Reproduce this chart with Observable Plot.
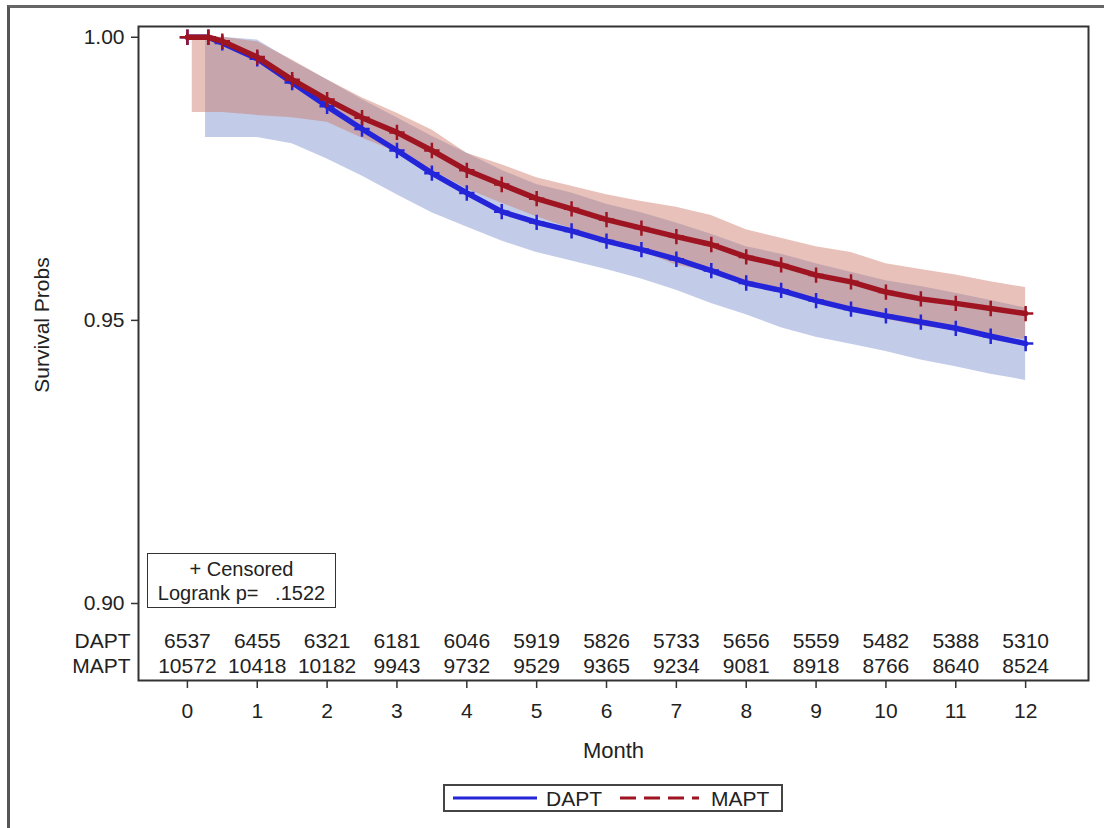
<!DOCTYPE html>
<html>
<head>
<meta charset="utf-8">
<script src="https://cdn.jsdelivr.net/npm/d3@7"></script>
<script src="https://cdn.jsdelivr.net/npm/@observablehq/plot@0.6"></script>
<style>
  html, body { margin: 0; padding: 0; background: #fff; }
  body { width: 1104px; height: 828px; position: relative; overflow: hidden; font-family: "Liberation Sans", Arial, sans-serif; color: #222; }
  #outer { position: absolute; left: 7px; top: 5px; width: 1094px; height: 820px; border-top: 3px solid #666; border-left: 3px solid #555; border-right: 1px solid #ddd; border-bottom: 1px solid #ddd; }
  #chart { position: absolute; left: 0; top: 0; }
  #ylabel { position: absolute; left: 42px; top: 325px; transform: translate(-50%, -50%) rotate(-90deg); font-size: 21px; white-space: nowrap; color: #222; }
  #censor { position: absolute; left: 147px; top: 553px; width: 189px; height: 55px; border: 1.5px solid #333; font-size: 20px; text-align: center; line-height: 24px; padding-top: 3px; box-sizing: border-box; background: #fff; color: #222; }
  #legend { position: absolute; left: 443px; top: 784px; width: 340px; height: 28px; border: 2px solid #444; box-sizing: border-box; }
  #legend svg { position: absolute; left: 0; top: 0; }
</style>
</head>
<body>
<div id="outer"></div>
<div id="chart"></div>
<div id="ylabel">Survival Probs</div>
<div id="censor">+ Censored<br>Logrank p=&nbsp;&nbsp;&nbsp;.1522</div>
<div id="legend"></div>
<script>
// ---- Data ----
const months = [0, 0.3, 0.5, 1, 1.5, 2, 2.5, 3, 3.5, 4, 4.5, 5, 5.5, 6, 6.5, 7, 7.5, 8, 8.5, 9, 9.5, 10, 10.5, 11, 11.5, 12];
const daptSurv = [1.000, 1.000, 0.9990, 0.9962, 0.9920, 0.9878, 0.9838, 0.9800, 0.9760, 0.9725, 0.9692, 0.9673, 0.9658, 0.9640, 0.9625, 0.9608, 0.9588, 0.9566, 0.9553, 0.9535, 0.9520, 0.9508, 0.9497, 0.9486, 0.9472, 0.9459];
const maptSurv = [1.000, 1.000, 0.9993, 0.9965, 0.9925, 0.9890, 0.9858, 0.9832, 0.9800, 0.9765, 0.9740, 0.9715, 0.9697, 0.9678, 0.9663, 0.9648, 0.9634, 0.9612, 0.9598, 0.9580, 0.9568, 0.9550, 0.9538, 0.9530, 0.9521, 0.9512];

const daptBandMonths = [0.26, 0.5, 1, 1.5, 2, 2.5, 3, 3.5, 4, 4.5, 5, 5.5, 6, 6.5, 7, 7.5, 8, 8.5, 9, 9.5, 10, 10.5, 11, 11.5, 12];
const daptLower = [0.9823, 0.9823, 0.9823, 0.9812, 0.9785, 0.9755, 0.9722, 0.9690, 0.9665, 0.9640, 0.9620, 0.9605, 0.9590, 0.9573, 0.9553, 0.9530, 0.9510, 0.9487, 0.9470, 0.9458, 0.9445, 0.9430, 0.9418, 0.9405, 0.9394];
const daptUpper = [1.000, 1.000, 0.9995, 0.9958, 0.9925, 0.9890, 0.9858, 0.9825, 0.9795, 0.9765, 0.9740, 0.9725, 0.9705, 0.9690, 0.9672, 0.9652, 0.9630, 0.9617, 0.9600, 0.9585, 0.9570, 0.9560, 0.9548, 0.9535, 0.9522];

const maptBandMonths = [0.07, 0.5, 1, 1.5, 2, 2.5, 3, 3.5, 4, 4.5, 5, 5.5, 6, 6.5, 7, 7.5, 8, 8.5, 9, 9.5, 10, 10.5, 11, 11.5, 12];
const maptLower = [0.9867, 0.9867, 0.9862, 0.9858, 0.9850, 0.9822, 0.9797, 0.9765, 0.9732, 0.9707, 0.9683, 0.9662, 0.9640, 0.9622, 0.9598, 0.9585, 0.9568, 0.9553, 0.9533, 0.9518, 0.9502, 0.9490, 0.9482, 0.9474, 0.9466];
const maptUpper = [1.000, 1.000, 0.9992, 0.9960, 0.9925, 0.9893, 0.9866, 0.9836, 0.9795, 0.9775, 0.9752, 0.9737, 0.9722, 0.9710, 0.9700, 0.9685, 0.9660, 0.9645, 0.9630, 0.9620, 0.9600, 0.9590, 0.9580, 0.9568, 0.9558];

const riskMonths = [0, 1, 2, 3, 4, 5, 6, 7, 8, 9, 10, 11, 12];
const daptAtRisk = [6537, 6455, 6321, 6181, 6046, 5919, 5826, 5733, 5656, 5559, 5482, 5388, 5310];
const maptAtRisk = [10572, 10418, 10182, 9943, 9732, 9529, 9365, 9234, 9081, 8918, 8766, 8640, 8524];

const groups = ["DAPT", "MAPT"];
const yTicks = [0.90, 0.95, 1.00];
const xTicks = [0, 1, 2, 3, 4, 5, 6, 7, 8, 9, 10, 11, 12];

// ---- Build tables ----
const curveD = months.map((m, i) => ({month: m, s: daptSurv[i]}));
const curveM = months.map((m, i) => ({month: m, s: maptSurv[i]}));
const bandD = daptBandMonths.map((m, i) => ({month: m, lo: daptLower[i], hi: daptUpper[i]}));
const bandM = maptBandMonths.map((m, i) => ({month: m, lo: maptLower[i], hi: maptUpper[i]}));
const riskD = riskMonths.map((m, i) => ({month: m, n: daptAtRisk[i]}));
const riskM = riskMonths.map((m, i) => ({month: m, n: maptAtRisk[i]}));

const blue = "#2424d8";
const red = "#9e1420";
const fs = 21;

const chart = Plot.plot({
  width: 1104,
  height: 770,
  marginTop: 26,
  marginLeft: 138,
  marginRight: 16,
  marginBottom: 90,
  style: {fontFamily: "'Liberation Sans', Arial, sans-serif", color: "#222", background: "transparent", overflow: "visible"},
  x: {domain: [-0.7, 12.9]},
  y: {domain: [0.8864, 1.0019]},
  marks: [
    Plot.areaY(bandD, {x: "month", y1: "lo", y2: "hi", fill: "#8fa0d6", fillOpacity: 0.55}),
    Plot.areaY(bandM, {x: "month", y1: "lo", y2: "hi", fill: "#cc7766", fillOpacity: 0.45}),
    Plot.line(curveD, {x: "month", y: "s", stroke: blue, strokeWidth: 5.5}),
    Plot.dot(curveD, {x: "month", y: "s", symbol: "plus", r: 5, stroke: blue, strokeWidth: 2.5}),
    Plot.line(curveM, {x: "month", y: "s", stroke: red, strokeWidth: 5.5}),
    Plot.dot(curveM, {x: "month", y: "s", symbol: "plus", r: 5, stroke: red, strokeWidth: 2.5}),
    Plot.text(riskD, {x: "month", text: d => String(d.n), frameAnchor: "bottom", dy: -33, fontSize: fs, fill: "#222"}),
    Plot.text(riskM, {x: "month", text: d => String(d.n), frameAnchor: "bottom", dy: -8, fontSize: fs, fill: "#222"}),
    Plot.text([groups[0]], {frameAnchor: "bottom-left", dx: -8, dy: -33, textAnchor: "end", fontSize: fs, fill: "#222"}),
    Plot.text([groups[1]], {frameAnchor: "bottom-left", dx: -8, dy: -8, textAnchor: "end", fontSize: fs, fill: "#222"}),
    Plot.frame({stroke: "#333", strokeWidth: 2}),
    Plot.axisY({ticks: yTicks, tickFormat: d3.format(".2f"), tickSize: 7, tickPadding: 7, fontSize: fs, label: null, stroke: "#333", strokeWidth: 1.5, fill: "#222"}),
    Plot.axisX({ticks: xTicks, tickFormat: d => String(d), tickSize: 8, tickPadding: 15, fontSize: fs, label: null, stroke: "#333", strokeWidth: 1.5, fill: "#222"}),
    Plot.text(["Month"], {frameAnchor: "bottom", dy: 77, fontSize: 22, fill: "#222"})
  ]
});
document.getElementById("chart").appendChild(chart);

// ---- Legend ----
const leg = d3.select("#legend").append("svg").attr("width", 336).attr("height", 24);
leg.append("line").attr("x1", 8).attr("x2", 92).attr("y1", 12).attr("y2", 12).attr("stroke", blue).attr("stroke-width", 3);
leg.append("text").attr("x", 101).attr("y", 19.5).attr("font-size", 21).attr("fill", "#222").text(groups[0]);
leg.append("line").attr("x1", 175).attr("x2", 254).attr("y1", 12).attr("y2", 12).attr("stroke", red).attr("stroke-width", 3).attr("stroke-dasharray", "16,8");
leg.append("text").attr("x", 266).attr("y", 19.5).attr("font-size", 21).attr("fill", "#222").text(groups[1]);
</script>
</body>
</html>
